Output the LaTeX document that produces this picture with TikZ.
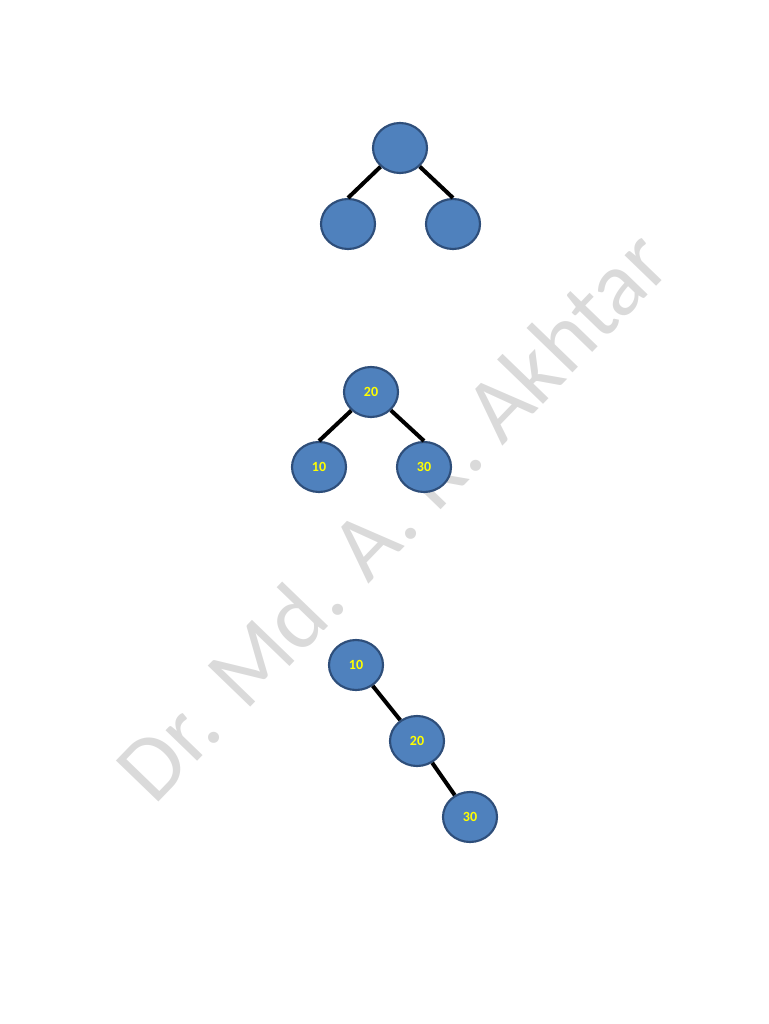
\documentclass[tikz,border=0pt]{standalone}
\usepackage{fontspec}
\setmainfont{Carlito}
\usepackage{xcolor}
\usetikzlibrary{shapes.geometric}

\definecolor{nodefill}{HTML}{4F81BD}
\definecolor{nodeline}{HTML}{2E4E7A}
\definecolor{markgray}{HTML}{DADADA}
\definecolor{keyyellow}{HTML}{FFFF00}

\begin{document}
\begin{tikzpicture}[x=0.75pt, y=-0.75pt,
  bnode/.style={ellipse, draw=nodeline, fill=nodefill, line width=1.6pt,
    minimum width=40.5pt, minimum height=37.5pt, inner sep=0pt,
    text=keyyellow, font=\fontsize{10.5}{12}\selectfont\bfseries},
  edge/.style={line width=3pt, black}]
\useasboundingbox (0,0) rectangle (768,1024);

% watermark
\node[rotate=46, text=markgray, font=\fontsize{69}{75}\selectfont] (mark) at (392,515) {Dr. Md. A. R. Akhtar};

% empty tree
\node[bnode] (t1r) at (400,148) {};
\node[bnode] (t1l) at (348,224) {};
\node[bnode] (t1rr) at (453,224) {};
\draw[edge] (t1r) -- (t1l.north);
\draw[edge] (t1r) -- (t1rr.north);

% balanced tree
\node[bnode] (t2r) at (371,392) {20};
\node[bnode] (t2l) at (319,467) {10};
\node[bnode] (t2rr) at (424,467) {30};
\draw[edge] (t2r) -- (t2l.north);
\draw[edge] (t2r) -- (t2rr.north);

% skewed tree
\node[bnode] (t3a) at (356,665) {10};
\node[bnode] (t3b) at (417,741) {20};
\node[bnode] (t3c) at (470,817) {30};
\draw[edge] (t3a) -- (t3b);
\draw[edge] (t3b) -- (t3c);
\end{tikzpicture}
\end{document}
